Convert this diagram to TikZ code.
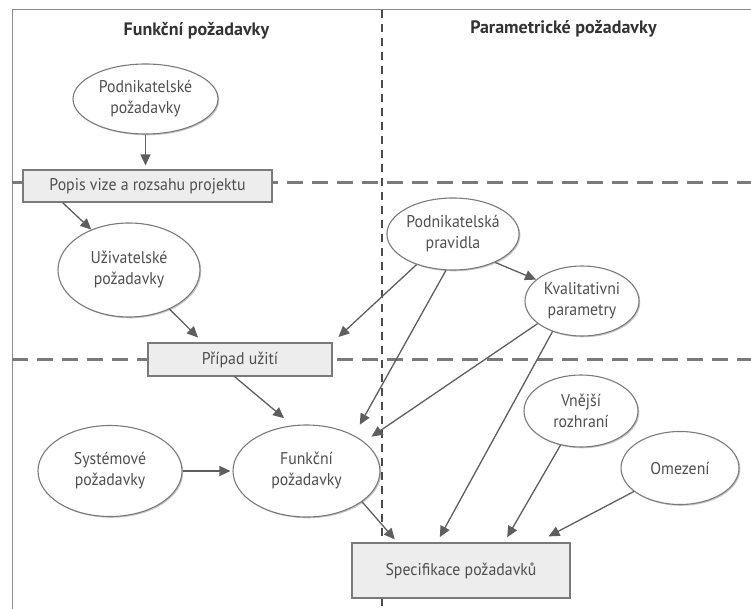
\documentclass[tikz,border=0pt]{standalone}
\usepackage{fontspec}
\setmainfont{PT Sans}
\newfontfamily\bodyfont{PT Sans}[FakeStretch=0.93]
\usetikzlibrary{arrows.meta,shapes.geometric,calc,shadows}

\definecolor{ink}{HTML}{4F4F4F}
\definecolor{headink}{HTML}{333333}
\definecolor{wire}{HTML}{5E5E5E}
\definecolor{rim}{HTML}{7A7A7A}
\definecolor{boxfill}{HTML}{EDEDED}
\definecolor{frame}{HTML}{8C8C8C}

\tikzset{
  softshadow/.style={drop shadow={shadow xshift=1.3pt,shadow yshift=-1.3pt,opacity=0.22,fill=black}},
  bubble/.style={ellipse, draw=rim, line width=1.1pt, fill=white, softshadow,
    inner sep=0pt, align=center, text=ink,
    font=\bodyfont\fontsize{17}{21}\selectfont},
  card/.style={rectangle, draw=rim, line width=1.1pt, fill=boxfill, softshadow,
    inner sep=0pt, align=center, text=ink,
    font=\bodyfont\fontsize{17}{21}\selectfont},
  heading/.style={font=\bfseries\fontsize{18}{21}\selectfont, text=headink},
  arr/.style={draw=wire, line width=1.3pt, -{Triangle[length=11pt,width=10pt]}},
  bandline/.style={draw=rim, line width=3pt, dash pattern=on 16pt off 9pt},
  columnline/.style={draw=black!70, line width=1.1pt, dash pattern=on 8pt off 6pt},
}

\begin{document}
\begin{tikzpicture}[x=1pt,y=-1pt]
\useasboundingbox (0,0) rectangle (751,609);

% outer frame: top and left edges
\draw[frame, line width=1pt] (12,609) -- (12,10) -- (751,10);

% column divider and dashed band separators
\draw[columnline] (382,10) -- (382,609);
\draw[bandline] (12,183) -- (751,183);
\draw[bandline] (12,359) -- (751,359);

% column headings
\node[heading] (hfun) at (196.5,31) {Funkční požadavky};
\node[heading] (hpar) at (563.5,29) {Parametrické požadavky};

% requirement nodes
\node[bubble, minimum width=145pt, minimum height=70pt] (A) at (145.5,99) {Podnikatelské\\požadavky};
\node[card, minimum width=249pt, minimum height=32pt] (B) at (147.5,186) {Popis vize a rozsahu projektu};
\node[bubble, minimum width=142pt, minimum height=94pt] (C) at (129,270) {Uživatelské\\požadavky};
\node[card, minimum width=184pt, minimum height=33pt] (D) at (240,359.5) {Případ užití};
\node[bubble, minimum width=112pt, minimum height=72pt] (E) at (453,234) {Podnikatelská\\pravidla};
\node[bubble, minimum width=114pt, minimum height=70pt] (F) at (582,301) {Kvalitativni\\parametry};
\node[bubble, minimum width=147pt, minimum height=92pt] (G) at (306.5,471) {Funkční\\požadavky};
\node[card, minimum width=218pt, minimum height=55pt] (H) at (461,570.5) {Specifikace požadavků};
\node[bubble, minimum width=144pt, minimum height=91pt] (I) at (110,471) {Systémové\\požadavky};
\node[bubble, minimum width=114pt, minimum height=72pt] (J) at (581,411) {Vnější\\rozhraní};
\node[bubble, minimum width=118pt, minimum height=73pt] (K) at (680,468) {Omezení};

% connectors
\draw[arr, shorten >=4pt] (A) -- (A |- B.north);
\draw[arr] ($(B.south west)!0.16!(B.south east)$) -- (C.133);
\draw[arr, shorten >=7pt] (C.316) -- ($(D.north west)!0.30!(D.north east)$);
\draw[arr, shorten >=8pt] (E.220) -- (D.north east);
\draw[arr] (E.326) -- (F.155);
\draw[arr, shorten >=12pt] (E.259) -- (G.37);
\draw[arr, shorten >=9pt] (F.207) -- (G.27);
\draw[arr, shorten >=6pt] (F.226) -- ($(H.north west)!0.39!(H.north east)$);
\draw[arr, shorten >=11pt] ($(D.south west)!0.47!(D.south east)$) -- (G.107);
\draw[arr, shorten >=2pt] (I) -- (G);
\draw[arr, shorten >=4pt] (G.331) -- ($(H.north west)!0.21!(H.north east)$);
\draw[arr, shorten >=6pt] (J.239) -- ($(H.north west)!0.697!(H.north east)$);
\draw[arr, shorten >=13pt] (K.207) -- ($(H.north west)!0.847!(H.north east)$);
\end{tikzpicture}
\end{document}
